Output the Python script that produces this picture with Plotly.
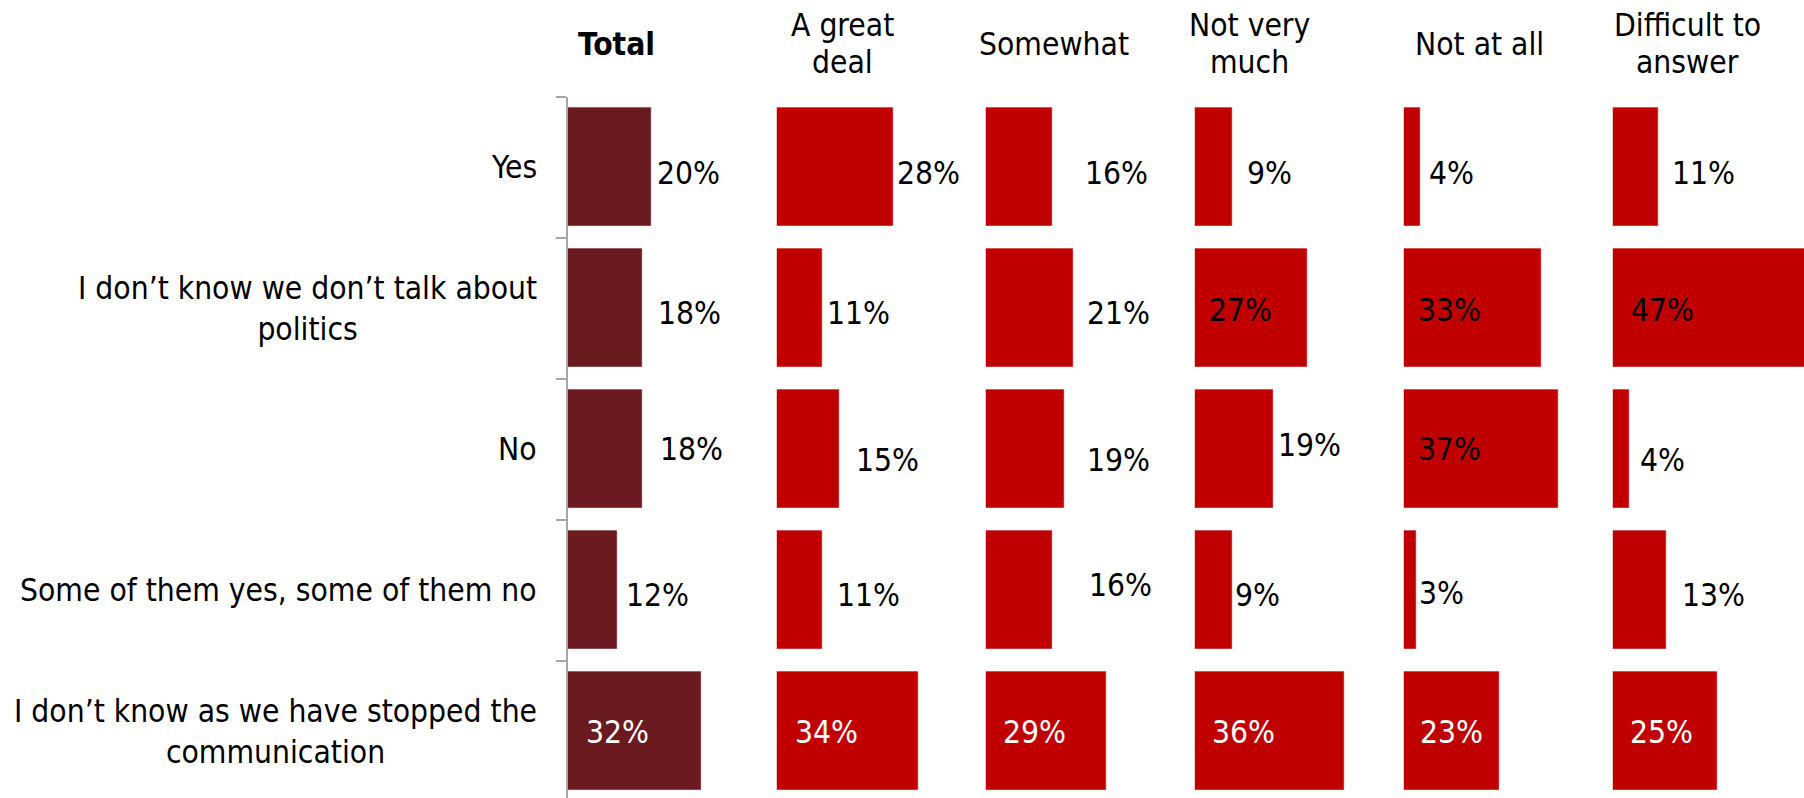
import plotly.graph_objects as go

# Survey answers (rows) by trust level (columns), values in percent
categories = [
    "Yes",
    "I don’t know we don’t talk about<br>politics",
    "No",
    "Some of them yes, some of them no",
    "I don’t know as we have stopped the<br>communication",
]
groups = ["Total", "A great deal", "Somewhat", "Not very much", "Not at all", "Difficult to answer"]
group_titles = [["<b>Total</b>"], ["A great", "deal"], ["Somewhat"], ["Not very", "much"], ["Not at all"], ["Difficult to", "answer"]]

total = [20, 18, 18, 12, 32]
great_deal = [28, 11, 15, 11, 34]
somewhat = [16, 21, 19, 16, 29]
not_very_much = [9, 27, 19, 9, 36]
not_at_all = [4, 33, 37, 3, 23]
difficult = [11, 47, 4, 13, 25]
series = [total, great_deal, somewhat, not_very_much, not_at_all, difficult]

# Label placement per column (rows top to bottom): inside the bar or after it
label_inside = [
    [0, 0, 0, 0, 1],
    [0, 0, 0, 0, 1],
    [0, 0, 0, 0, 1],
    [0, 1, 0, 0, 1],
    [0, 1, 1, 0, 1],
    [0, 1, 0, 0, 1],
]
# Horizontal gap in px between bar end (or bar start when inside) and label
label_gap = [
    [4, 13, 15, 6, 16],
    [1, 2, 15, 12, 16],
    [30, 12, 20, 34, 15],
    [13, 12, 2, 1, 15],
    [7, 12, 12, 1, 14],
    [11, 16, 9, 13, 15],
]
# Vertical nudge in px (positive = down)
label_dy = [
    [6, 5, 0, 5, 1],
    [6, 5, 11, 5, 1],
    [6, 5, 11, -5, 1],
    [6, 2, -4, 5, 1],
    [6, 2, 0, 3, 1],
    [6, 2, 11, 5, 1],
]

W, H = 1804, 798
FONT = "DejaVu Sans Condensed, DejaVu Sans, sans-serif"
FS = 31.5
TOTAL_COLOR = "#6B1A1F"
RED = "#C00000"

col_start = 567.7      # px, left edge of first column
col_step = 209.0       # px between column starts
px_per_pct = 4.18
plot_top = 96.6        # px from top where the category bands begin
band = 141.0           # px per category band

fig = go.Figure()
n = len(categories)
ypos = list(range(n))

for i, vals in enumerate(series):
    ax = "x" if i == 0 else f"x{i + 1}"
    color = TOTAL_COLOR if i == 0 else RED
    fig.add_trace(go.Bar(
        x=vals, y=ypos, orientation="h", xaxis=ax, yaxis="y",
        marker=dict(color=color, line=dict(color="rgba(255,255,255,0.55)", width=1)),
        width=0.846, hoverinfo="skip", showlegend=False,
    ))
    left = col_start + i * col_step
    right = min(left + 208.0, W)
    rng = (right - left) / px_per_pct
    key = "xaxis" if i == 0 else f"xaxis{i + 1}"
    fig.layout[key] = dict(domain=[left / W, right / W], range=[0, rng], visible=False,
                           anchor="y", fixedrange=True)

    for r, v in enumerate(vals):
        inside = label_inside[i][r]
        if inside:
            txt_color = "white" if r == n - 1 else "black"
            x = 0
        else:
            txt_color = "black"
            x = v
        fig.add_annotation(
            x=x, y=r, xref=ax, yref="y", text=f"{v}%", showarrow=False,
            xanchor="left", yanchor="middle", xshift=label_gap[i][r], yshift=-label_dy[i][r],
            font=dict(family=FONT, size=FS, color=txt_color),
        )

y_top_frac = 1 - plot_top / H
span = (H - plot_top) / band
fig.update_layout(
    yaxis=dict(
        domain=[0, y_top_frac], range=[-0.5 + span, -0.5], anchor="x",
        tickmode="array", tickvals=[k - 0.5 for k in range(n + 1)],
        showticklabels=False, ticks="outside", ticklen=10, tickwidth=1.5, tickcolor="#A6A6A6",
        showline=True, linecolor="#A6A6A6", linewidth=1.5, showgrid=False, zeroline=False,
        fixedrange=True,
    ),
    width=W, height=H, margin=dict(l=0, r=0, t=0, b=0),
    paper_bgcolor="white", plot_bgcolor="white", bargap=0, showlegend=False,
)

# Category labels to the left of the first column
for r, cat in enumerate(categories):
    fig.add_annotation(
        x=539 / W, y=r, xref="paper", yref="y", text=cat, showarrow=False,
        xanchor="right", yanchor="middle", align="center",
        font=dict(family=FONT, size=FS, color="black"),
    )

# Column headers
header_x = [616, 842, 1054, 1249, 1479, 1687]
line_step = 37.0
header_mid = 43.5
for cx, lines in zip(header_x, group_titles):
    k = len(lines)
    for j, line in enumerate(lines):
        ypx = header_mid + (j - (k - 1) / 2) * line_step
        fig.add_annotation(
            x=cx / W, y=1 - ypx / H, xref="paper", yref="paper", text=line, showarrow=False,
            xanchor="center", yanchor="middle",
            font=dict(family=FONT, size=FS, color="black"),
        )

fig.write_html("out.html")
